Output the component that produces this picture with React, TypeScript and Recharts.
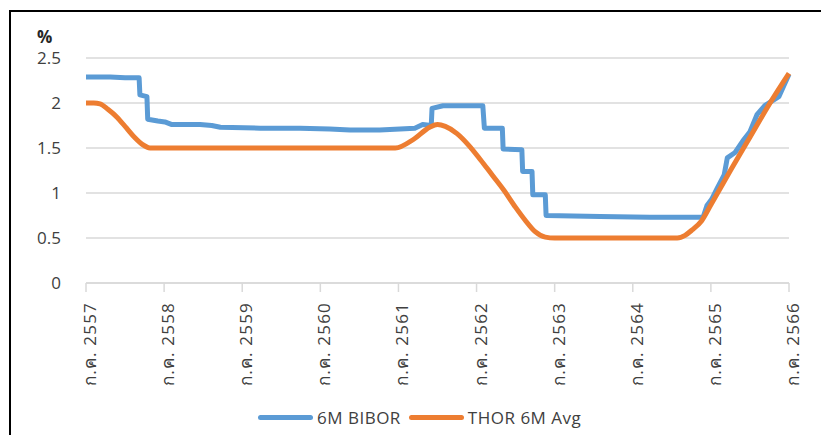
import React from "react"
import { LineChart, Line, XAxis, YAxis, CartesianGrid } from "recharts"

// ช่วงเวลา (ปี พ.ศ.) และค่าของแต่ละอนุกรม
const YEAR_TICKS = [2557, 2558, 2559, 2560, 2561, 2562, 2563, 2564, 2565, 2566]
const Y_TICKS = [0, 0.5, 1, 1.5, 2, 2.5]
const SERIES_NAMES = ["6M BIBOR", "THOR 6M Avg"]
const COLORS = ["#5B9BD5", "#ED7D31"]

const biborT = [2557.0, 2557.31, 2557.5, 2557.68, 2557.69, 2557.78, 2557.79, 2557.92, 2558.01, 2558.1, 2558.46, 2558.61, 2558.72, 2559.23, 2559.74, 2560.12, 2560.38, 2560.76, 2561.02, 2561.21, 2561.31, 2561.42, 2561.43, 2561.57, 2562.08, 2562.1, 2562.33, 2562.34, 2562.58, 2562.59, 2562.71, 2562.72, 2562.88, 2562.89, 2563.58, 2564.22, 2564.9, 2564.95, 2565.01, 2565.08, 2565.17, 2565.21, 2565.31, 2565.41, 2565.5, 2565.59, 2565.69, 2565.78, 2565.87, 2566.0]
const biborV = [2.29, 2.29, 2.28, 2.28, 2.09, 2.07, 1.82, 1.8, 1.79, 1.76, 1.76, 1.75, 1.73, 1.72, 1.72, 1.71, 1.7, 1.7, 1.71, 1.72, 1.76, 1.75, 1.94, 1.97, 1.97, 1.72, 1.72, 1.49, 1.48, 1.24, 1.24, 0.98, 0.98, 0.75, 0.74, 0.73, 0.73, 0.86, 0.93, 1.05, 1.2, 1.39, 1.45, 1.58, 1.68, 1.87, 1.97, 2.02, 2.07, 2.32]

const thorT = [2557.0, 2557.1, 2557.18, 2557.28, 2557.4, 2557.52, 2557.63, 2557.72, 2557.82, 2558.0, 2559.0, 2560.0, 2560.96, 2561.2, 2561.4, 2561.5, 2561.6, 2561.75, 2561.9, 2562.05, 2562.2, 2562.35, 2562.5, 2562.62, 2562.75, 2562.88, 2563.0, 2564.0, 2564.57, 2564.67, 2564.76, 2564.88, 2565.0, 2565.25, 2565.5, 2565.75, 2566.0]
const thorV = [2.0, 2.0, 1.99, 1.93, 1.84, 1.72, 1.61, 1.54, 1.5, 1.5, 1.5, 1.5, 1.5, 1.6, 1.73, 1.76, 1.74, 1.66, 1.53, 1.37, 1.2, 1.03, 0.84, 0.7, 0.57, 0.51, 0.5, 0.5, 0.5, 0.53, 0.59, 0.69, 0.87, 1.25, 1.62, 1.99, 2.33]

const biborData = biborT.map((t, i) => ({ t, v: biborV[i] }))
const thorData = thorT.map((t, i) => ({ t, v: thorV[i] }))

const FONT = "'Open Sans', 'Noto Sans', 'DejaVu Sans', sans-serif"

const YearTick = (props: any) => {
	const { x, payload } = props
	return (
		<text x={0} y={0} transform={`translate(${x + 10},302) rotate(-90)`} textAnchor="end" fontSize={17} letterSpacing={1.2} fill="#404040" fontFamily={FONT}>
			{`ก.ค. ${payload.value}`}
		</text>
	)
}

export default function App() {
	return (
		<div style={{position:"absolute", left:0, top:0, width:821, height:435, overflow:"hidden", background:"#fff", fontFamily:FONT}}>
			<div style={{position:"absolute", left:9, top:10, width:900, height:500, border:"2px solid #000", boxSizing:"border-box"}} />
			<div style={{position:"absolute", left:37, top:25, fontSize:17, fontWeight:700, color:"#262626"}}>%</div>

			<div style={{position:"absolute", left:0, top:0}}>
				<LineChart width={821} height={435} margin={{top:58, right:32, bottom:0, left:0}}>
					<CartesianGrid horizontal vertical={false} stroke="#d9d9d9" strokeWidth={1.5} />
					<XAxis type="number" dataKey="t" domain={[2557, 2566]} ticks={YEAR_TICKS} allowDuplicatedCategory={false}
						axisLine={{stroke:"#d9d9d9", strokeWidth:1.5}} tickLine={{stroke:"#d9d9d9", strokeWidth:1.5}} tickSize={9}
						tick={<YearTick />} interval={0} height={152} />
					<YAxis type="number" domain={[0, 2.5]} ticks={Y_TICKS} width={86} axisLine={false} tickLine={false} tickSize={0} tickMargin={25}
						tick={{fontSize:17, fill:"#404040", fontFamily:FONT}} />
					<Line data={biborData} dataKey="v" type="linear" stroke={COLORS[0]} strokeWidth={5} dot={false} strokeLinejoin="round" isAnimationActive={false} name={SERIES_NAMES[0]} />
					<Line data={thorData} dataKey="v" type="monotone" stroke={COLORS[1]} strokeWidth={5} dot={false} strokeLinejoin="round" isAnimationActive={false} name={SERIES_NAMES[1]} />
				</LineChart>
			</div>

			{/* legend */}
			<div style={{position:"absolute", left:258, top:406, display:"flex", alignItems:"center", fontSize:17, letterSpacing:0.5, color:"#404040"}}>
				{SERIES_NAMES.map((n, i) => (
					<div key={n} style={{display:"flex", alignItems:"center", marginRight:8}}>
						<span style={{display:"inline-block", width:55, height:5, borderRadius:3, background:COLORS[i], marginRight:4}} />
						<span>{n}</span>
					</div>
				))}
			</div>
		</div>
	)
}
